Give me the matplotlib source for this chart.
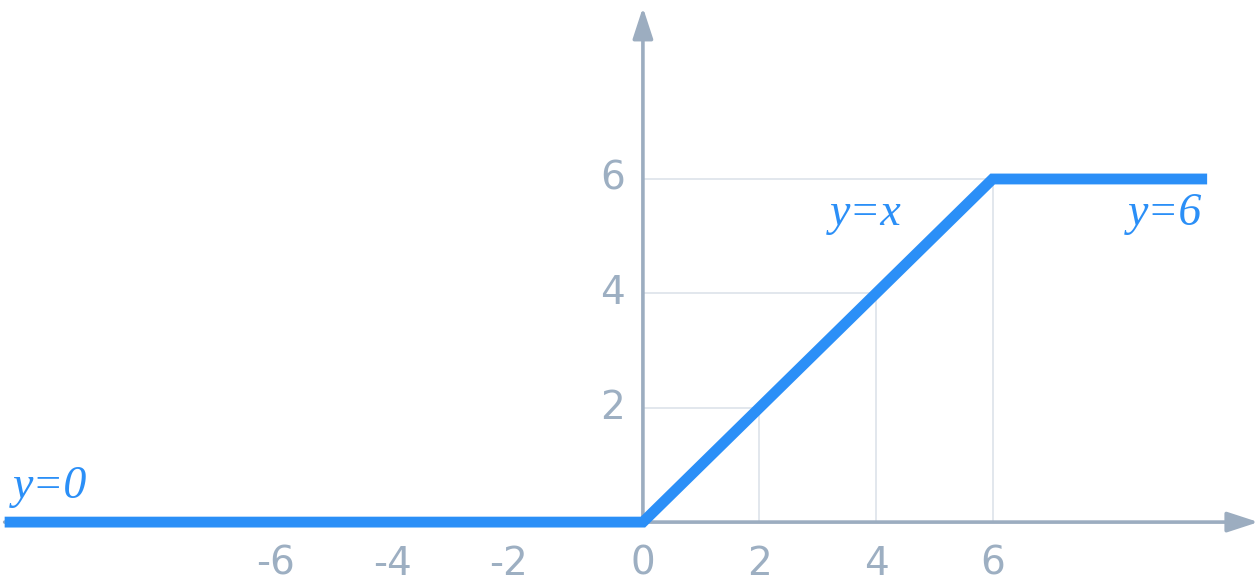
import matplotlib
matplotlib.use("Agg")
import matplotlib.pyplot as plt
from matplotlib.transforms import offset_copy

# data
curve_x = [-10.95, 0, 6, 9.68]
curve_y = [0, 0, 6, 6]
x_ticks = [-6, -4, -2, 0, 2, 4, 6]
x_tick_labels = ["-6", "-4", "-2", "0", "2", "4", "6"]
y_ticks = [2, 4, 6]
y_tick_labels = ["2", "4", "6"]
guide_points = [2, 4, 6]
labels = ["y=0", "y=x", "y=6"]

BLUE = "#2b8ff7"
AXIS = "#9cadc0"
TICK = "#9dafc2"
GRID = "#dfe5ec"

fig = plt.figure(figsize=(12.59, 5.81), dpi=100)
ax = fig.add_axes([0, 0, 1, 1])
ax.set_xlim(-11.03, 10.57)
ax.set_ylim(-1.03, 9.13)
ax.axis("off")

# guide lines
for g in guide_points:
    ax.plot([g, g], [0, g], color=GRID, lw=1.3, zorder=1, solid_capstyle="butt")
    xend = curve_x[-1] if g == max(guide_points) else g
    ax.plot([0, xend], [g, g], color=GRID, lw=1.3, zorder=1, solid_capstyle="butt")

# axes with arrows
arrow_style = "-|>,head_length=0.95,head_width=0.31"
ax.annotate("", xy=(10.56, 0), xytext=(curve_x[0], 0), annotation_clip=False,
            arrowprops=dict(arrowstyle=arrow_style, color=AXIS, lw=2.6,
                            mutation_scale=20, shrinkA=0, shrinkB=0), zorder=2)
ax.annotate("", xy=(0, 9.0), xytext=(0, 0), annotation_clip=False,
            arrowprops=dict(arrowstyle=arrow_style, color=AXIS, lw=2.6,
                            mutation_scale=20, shrinkA=0, shrinkB=0), zorder=2)

# curve
ax.plot(curve_x, curve_y, color=BLUE, lw=7.8, solid_capstyle="butt",
        solid_joinstyle="miter", zorder=3)

# tick labels
for v, t in zip(x_ticks, x_tick_labels):
    if v < 0:
        tr = offset_copy(ax.transData, fig=fig, x=2, y=0, units="dots")
        ax.text(v, -0.92, t, ha="right", va="baseline", fontsize=28,
                color=TICK, family="DejaVu Sans", transform=tr)
    else:
        ax.text(v, -0.92, t, ha="center", va="baseline", fontsize=28,
                color=TICK, family="DejaVu Sans")
for v, t in zip(y_ticks, y_tick_labels):
    ax.text(-0.31, v, t, ha="right", va="center", fontsize=28,
            color=TICK, family="DejaVu Sans")

# function labels
lab_style = dict(fontsize=33, color=BLUE, family="Liberation Serif", style="italic")
ax.text(-10.81, 0.42, labels[0], ha="left", va="baseline", **lab_style)
ax.text(3.21, 5.2, labels[1], ha="left", va="baseline", **lab_style)
ax.text(9.59, 5.2, labels[2], ha="right", va="baseline", **lab_style)

fig.savefig("out.png", dpi=100)
